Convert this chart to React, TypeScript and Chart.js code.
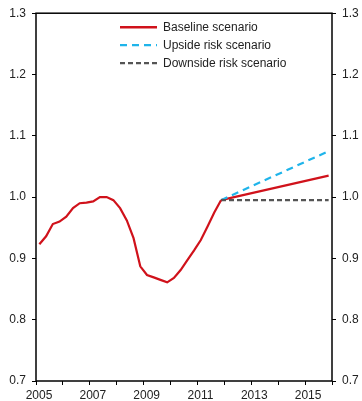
import React, { useEffect, useRef } from "react";
import { Chart, registerables } from "chart.js";

Chart.register(...registerables);

const FONT = "'Liberation Sans', Arial, sans-serif";

// Quarterly history
const histQuarters = [
  "2005Q1", "2005Q2", "2005Q3", "2005Q4",
  "2006Q1", "2006Q2", "2006Q3", "2006Q4",
  "2007Q1", "2007Q2", "2007Q3", "2007Q4",
  "2008Q1", "2008Q2", "2008Q3", "2008Q4",
  "2009Q1", "2009Q2", "2009Q3", "2009Q4",
  "2010Q1", "2010Q2", "2010Q3", "2010Q4",
  "2011Q1", "2011Q2", "2011Q3", "2011Q4",
];
const histValues = [
  0.923, 0.936, 0.956, 0.960,
  0.968, 0.982, 0.990, 0.991,
  0.993, 1.000, 1.000, 0.995,
  0.982, 0.962, 0.933, 0.887,
  0.873, 0.869, 0.865, 0.861,
  0.868, 0.881, 0.897, 0.913,
  0.930, 0.952, 0.975, 0.995,
];

// Projections
const projQuarters = ["2011Q4", "2015Q4"];
const baselineProj = [0.995, 1.035];
const upsideProj = [0.995, 1.075];
const downsideProj = [0.995, 0.995];

const seriesNames = ["Baseline scenario", "Upside risk scenario", "Downside risk scenario"];
const seriesColors = ["#d0121b", "#1fb4ea", "#555555"];
const seriesDash: number[][] = [[], [7, 5], [5, 3]];

const xMin = 2005;
const xMax = 2016;
const yMin = 0.7;
const yMax = 1.3;

function qToX(q: string): number {
  const y = parseInt(q.slice(0, 4), 10);
  const n = parseInt(q.slice(5), 10);
  return y + (n - 1) * 0.25 + 0.125;
}

const toPoints = (qs: string[], vs: number[]) => qs.map((q, i) => ({ x: qToX(q), y: vs[i] }));

const framePlugin = {
  id: "frameLegend",
  afterDraw(chart: any) {
    const { ctx, chartArea } = chart;
    ctx.save();
    ctx.strokeStyle = "#000";
    ctx.lineWidth = 1.5;
    ctx.strokeRect(chartArea.left, chartArea.top, chartArea.right - chartArea.left, chartArea.bottom - chartArea.top);
    // legend
    const lx = chartArea.left + 84;
    const ly = chartArea.top + 14;
    ctx.font = `12px ${FONT}`;
    ctx.textBaseline = "middle";
    seriesNames.forEach((name, i) => {
      const y = ly + i * 18;
      ctx.beginPath();
      ctx.strokeStyle = seriesColors[i];
      ctx.lineWidth = i === 0 ? 2.5 : 2.2;
      ctx.setLineDash(seriesDash[i]);
      ctx.moveTo(lx, y);
      ctx.lineTo(lx + 37, y);
      ctx.stroke();
      ctx.setLineDash([]);
      ctx.fillStyle = "#222";
      ctx.fillText(name, lx + 43, y);
    });
    ctx.restore();
  },
};

export default function App() {
  const ref = useRef<HTMLCanvasElement>(null);
  useEffect(() => {
    if (!ref.current) return;
    const chart = new Chart(ref.current, {
      type: "line",
      data: {
        datasets: [
          {
            label: "hist",
            data: toPoints(histQuarters, histValues),
            borderColor: seriesColors[0],
            borderWidth: 2.2,
            pointRadius: 0,
            tension: 0,
          },
          {
            label: seriesNames[2],
            data: toPoints(projQuarters, downsideProj),
            borderColor: seriesColors[2],
            borderWidth: 2.2,
            borderDash: seriesDash[2],
            pointRadius: 0,
          },
          {
            label: seriesNames[1],
            data: toPoints(projQuarters, upsideProj),
            borderColor: seriesColors[1],
            borderWidth: 2.2,
            borderDash: seriesDash[1],
            pointRadius: 0,
          },
          {
            label: seriesNames[0],
            data: toPoints(projQuarters, baselineProj),
            borderColor: seriesColors[0],
            borderWidth: 2.2,
            pointRadius: 0,
          },
        ],
      },
      options: {
        animation: false,
        responsive: false,
        maintainAspectRatio: false,
        layout: { padding: { top: 13, left: 0, right: 0, bottom: 0 } },
        plugins: { legend: { display: false }, tooltip: { enabled: false } },
        scales: {
          x: {
            type: "linear",
            min: xMin,
            max: xMax,
            afterFit: (s: any) => { s.height = 20; },
            border: { display: false },
            grid: { drawOnChartArea: false, tickLength: 4, color: "#000", lineWidth: 1 },
            ticks: {
              stepSize: 1,
              autoSkip: false,
              maxRotation: 0,
              padding: 3,
              labelOffset: 3,
              color: "#222",
              font: { family: FONT, size: 12 },
              callback: (v: any) => (Number(v) % 2 === 1 ? String(v) : ""),
            },
          },
          y: {
            position: "left",
            min: yMin,
            max: yMax,
            afterFit: (s: any) => { s.width = 36; },
            border: { display: false },
            grid: { drawOnChartArea: false, tickLength: 4, color: "#000" },
            ticks: {
              stepSize: 0.1,
              padding: 6,
              color: "#222",
              font: { family: FONT, size: 12 },
              callback: (v: any) => Number(v).toFixed(1),
            },
          },
          y2: {
            position: "right",
            min: yMin,
            max: yMax,
            afterFit: (s: any) => { s.width = 30; },
            border: { display: false },
            grid: { drawOnChartArea: false, tickLength: 4, color: "#000" },
            ticks: {
              stepSize: 0.1,
              padding: 6,
              color: "#222",
              font: { family: FONT, size: 12 },
              callback: (v: any) => Number(v).toFixed(1),
            },
          },
        },
      },
      plugins: [framePlugin],
    });
    return () => chart.destroy();
  }, []);
  return (
    <div style={{ position: "fixed", left: 0, top: 0, width: 362, height: 401, background: "#fff" }}>
      <canvas ref={ref} width={362} height={401} style={{ width: 362, height: 401 }} />
    </div>
  );
}
